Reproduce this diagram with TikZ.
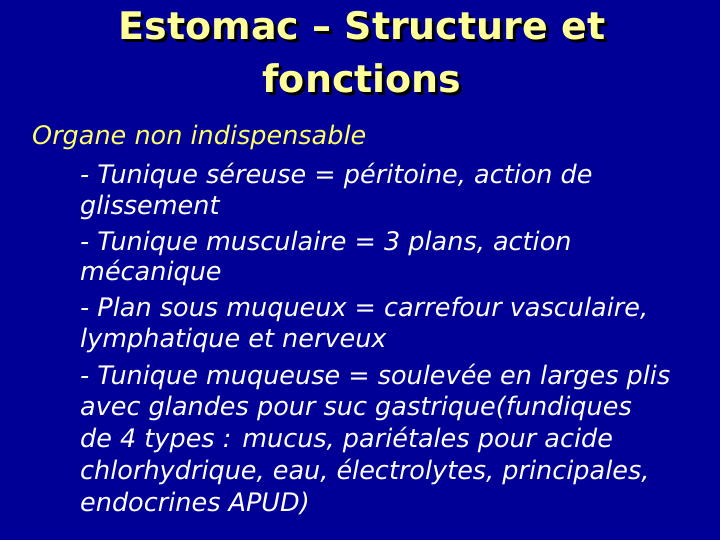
\documentclass[tikz,border=0pt]{standalone}
\usepackage{fontspec}
\setmainfont{DejaVu Sans}
\definecolor{bg}{RGB}{0,0,150}
\definecolor{ttl}{RGB}{255,255,153}
\definecolor{yel}{RGB}{255,255,102}
\begin{document}
\begin{tikzpicture}[x=1pt,y=-1pt,
  ttlstyle/.style={font=\fontsize{38}{40}\selectfont\bfseries,text=ttl,inner sep=0pt},
  shadowstyle/.style={font=\fontsize{38}{40}\selectfont\bfseries,text=black,inner sep=0pt},
  body/.style={font=\fontsize{25.5}{28}\selectfont,text=white,anchor=west,inner sep=0pt},
  head/.style={font=\fontsize{25.5}{28}\selectfont,text=yel,anchor=west,inner sep=0pt}]
\fill[bg] (0,0) rectangle (720,540);
\useasboundingbox (0,0) rectangle (720,540);
\node[shadowstyle] (s1) at (365,29) {Estomac – Structure et};
\node[ttlstyle] (t1) at (362,26) {Estomac – Structure et};
\node[shadowstyle] (s2) at (365,81) {fonctions};
\node[ttlstyle] (t2) at (362,78) {fonctions};
\node[head] (h) at (32,137) {\textit{Organe non indispensable}};
\node[body] (l1) at (80,176) {\textit{- Tunique séreuse = péritoine, action de}};
\node[body] (l2) at (80,207) {\textit{glissement}};
\node[body] (l3) at (80,243) {\textit{- Tunique musculaire = 3 plans, action}};
\node[body] (l4) at (80,273) {\textit{mécanique}};
\node[body] (l5) at (80,309) {\textit{- Plan sous muqueux = carrefour vasculaire,}};
\node[body] (l6) at (80,340) {\textit{lymphatique et nerveux}};
\node[body] (l7) at (80,377) {\textit{- Tunique muqueuse = soulevée en larges plis}};
\node[body] (l8) at (80,408) {\textit{avec glandes pour suc gastrique(fundiques}};
\node[body] (l9) at (80,440) {\textit{de 4 types : mucus, pariétales pour acide}};
\node[body] (l10) at (80,472) {\textit{chlorhydrique, eau, électrolytes, principales,}};
\node[body] (l11) at (80,503) {\textit{endocrines APUD)}};
\end{tikzpicture}
\end{document}
